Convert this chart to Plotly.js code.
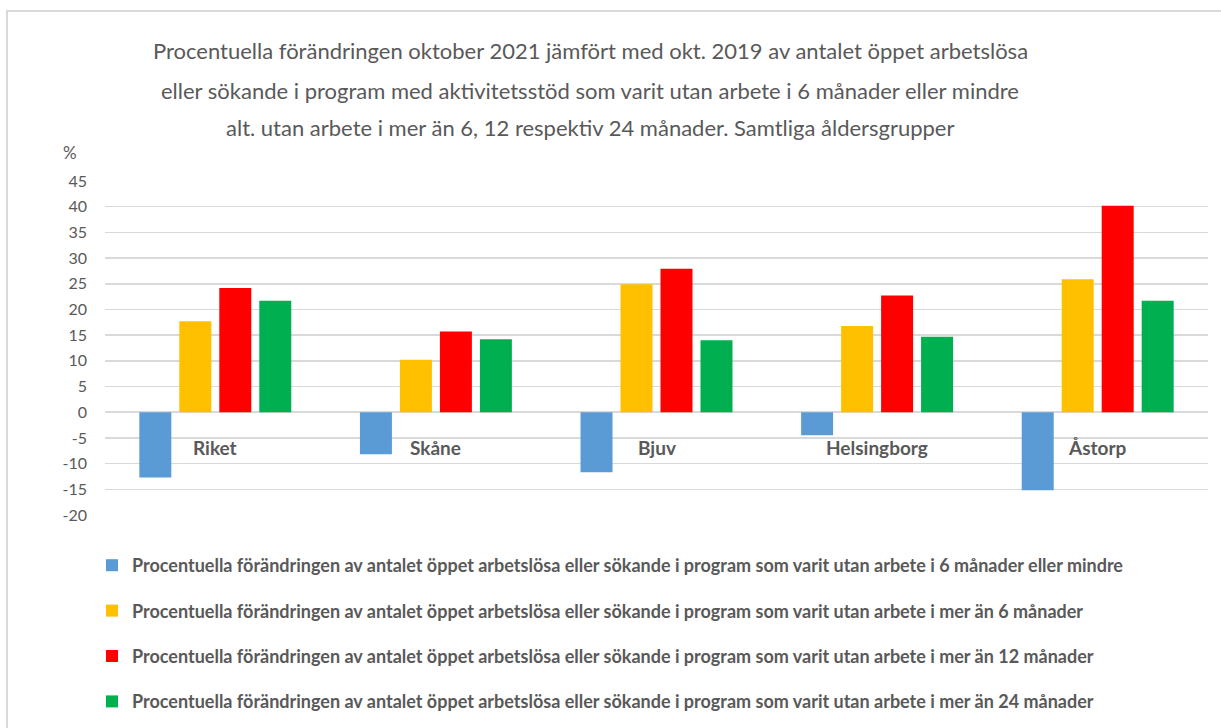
<!DOCTYPE html>
<html>
<head>
<meta charset="utf-8">
<script src="https://cdn.plot.ly/plotly-3.0.1.min.js"></script>
<style>
html,body{margin:0;padding:0;background:#fff;overflow:hidden;}
#frame{position:absolute;left:6px;top:10px;width:1300px;height:800px;border-left:2px solid #d9d9d9;border-top:2px solid #d9d9d9;pointer-events:none;z-index:5;}
#chart{position:absolute;left:0;top:0;width:1221px;height:728px;}
</style>
</head>
<body>
<div id="chart"></div>
<div id="frame"></div>
<script>
const categories = ['Riket', 'Skåne', 'Bjuv', 'Helsingborg', 'Åstorp'];
const upTo6 = [-12.7, -8.2, -11.7, -4.5, -15.2];
const over6 = [17.7, 10.2, 24.9, 16.8, 25.9];
const over12 = [24.2, 15.7, 27.9, 22.7, 40.2];
const over24 = [21.7, 14.2, 14.0, 14.7, 21.7];
const seriesNames = [
  'Procentuella förändringen av antalet öppet arbetslösa eller sökande i program som varit utan arbete i 6 månader eller mindre',
  'Procentuella förändringen av antalet öppet arbetslösa eller sökande i program som varit utan arbete i mer än 6 månader',
  'Procentuella förändringen av antalet öppet arbetslösa eller sökande i program som varit utan arbete i mer än 12 månader',
  'Procentuella förändringen av antalet öppet arbetslösa eller sökande i program som varit utan arbete i mer än 24 månader'
];
const seriesColors = ['#5b9bd5', '#ffc000', '#ff0000', '#00b050'];
const titleLines = [
  'Procentuella förändringen oktober 2021 jämfört med okt. 2019 av antalet öppet arbetslösa',
  'eller sökande i program med aktivitetsstöd som varit utan arbete i 6 månader eller mindre',
  'alt. utan arbete i mer än 6, 12 respektiv 24 månader. Samtliga åldersgrupper'
];
const yTicks = [-20, -15, -10, -5, 0, 5, 10, 15, 20, 25, 30, 35, 40, 45];
const yUnit = '%';
const categoryLabelY = -6.8;

const FONT = 'Lato, "Open Sans", sans-serif';
const GREY = '#595959';
const allSeries = [upTo6, over6, over12, over24];

const traces = allSeries.map((vals, i) => ({
  type: 'bar',
  x: categories,
  y: vals,
  name: seriesNames[i],
  legendgroup: 'g' + i,
  marker: {color: seriesColors[i], line: {width: 0}},
  hoverinfo: 'x+y'
}));

const W = 1221, H = 728, T = 181, B = 213;
const plotH = H - T - B;
const pyToPaper = py => 1 - (py - T) / plotH;

const annotations = [];
const titleY = [50, 90, 128];
titleLines.forEach((t, i) => {
  annotations.push({
    text: t, xref: 'paper', yref: 'paper',
    x: (590 - 105) / 1103, y: pyToPaper(titleY[i]),
    xanchor: 'center', yanchor: 'middle', showarrow: false,
    font: {family: FONT, size: 22, color: GREY}
  });
});
annotations.push({
  text: yUnit, xref: 'paper', yref: 'paper',
  x: (70 - 105) / 1103, y: pyToPaper(152),
  xanchor: 'center', yanchor: 'middle', showarrow: false,
  font: {family: FONT, size: 17, color: GREY}
});
categories.forEach(c => {
  annotations.push({
    text: '<b>' + c + '</b>', x: c, y: categoryLabelY, xref: 'x', yref: 'y',
    showarrow: false, xanchor: 'center', yanchor: 'middle',
    font: {family: FONT, size: 19, color: GREY}
  });
});

const layout = {
  width: W, height: H,
  margin: {l: 105, r: 13, t: T, b: B, pad: 0},
  paper_bgcolor: '#ffffff', plot_bgcolor: '#ffffff',
  font: {family: FONT, color: GREY},
  barmode: 'group',
  bargap: 0.275,
  bargroupgap: 0.2,
  showlegend: true,
  legend: {
    xref: 'paper', yref: 'container',
    x: (92 - 105) / 1103, y: 1 - 547 / H, xanchor: 'left', yanchor: 'top',
    orientation: 'v', tracegroupgap: 19,
    font: {family: FONT, size: 18, color: GREY, weight: 'bold'},
    bgcolor: 'rgba(0,0,0,0)', itemclick: false, itemdoubleclick: false
  },
  xaxis: {
    type: 'category', showticklabels: false, showgrid: false, zeroline: false,
    showline: false, ticks: '', automargin: false
  },
  yaxis: {
    range: [-20, 45], tickvals: yTicks, ticktext: yTicks.map(String),
    showgrid: true, gridcolor: '#d9d9d9', gridwidth: 1.5,
    zeroline: true, zerolinecolor: '#d9d9d9', zerolinewidth: 1.5,
    showline: false, ticks: '', ticklabelstandoff: 17, automargin: false,
    tickfont: {family: FONT, size: 16, color: GREY}
  },
  annotations: annotations
};

Plotly.newPlot('chart', traces, layout, {displayModeBar: false, staticPlot: true});
</script>
</body>
</html>
